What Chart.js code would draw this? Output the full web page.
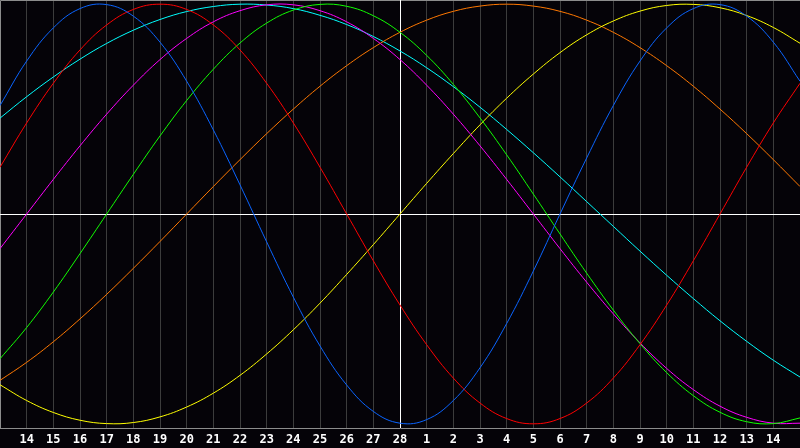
<!DOCTYPE html>
<html>
<head>
<meta charset="utf-8">
<script src="https://cdn.jsdelivr.net/npm/chart.js@4"></script>
<style>
  body { margin: 0; background: #050308; }
  #bio { display: block; background: #050308; }
</style>
</head>
<body>
<canvas id="bio" width="800" height="448"></canvas>
<script>
// days shown on the axis (13 .. 28 of this month, then 1 .. 15 of the next)
const days = ['13','14','15','16','17','18','19','20','21','22','23','24','25','26','27','28',
              '1','2','3','4','5','6','7','8','9','10','11','12','13','14','15'];
const todayIndex = 15;

// cycle values, -100 .. 100, one per day
const physical = [51.7, 72.9, 88.7, 97.9, 99.8, 94.3, 81.9, 63.3, 40.1, 13.9, -13.3, -39.6, -62.9, -81.5, -94.1, -99.7,
                  -98.0, -88.9, -73.3, -52.2, -27.2, 0, 26.7, 51.7, 72.9, 88.7, 97.9, 99.8, 94.3, 81.9, 63.3];
const emotional = [22.3, 43.4, 62.3, 78.2, 90.1, 97.5, 100, 97.5, 90.1, 78.2, 62.3, 43.4, 22.3, 0, -22.3, -43.4,
                   -62.3, -78.2, -90.1, -97.5, -100, -97.5, -90.1, -78.2, -62.3, -43.4, -22.3, 0, 22.3, 43.4, 62.3];
const intellectual = [-69.0, -54.1, -37.2, -18.9, 0, 18.9, 37.2, 54.1, 69.0, 81.5, 91.0, 97.2, 99.9, 99.0, 94.5, 86.6,
                      75.6, 61.8, 45.8, 28.2, 9.5, -9.5, -28.2, -45.8, -61.8, -75.6, -86.6, -94.5, -99.0, -99.9, -97.2];
const intuitive = [-16.5, 0, 16.5, 32.5, 47.6, 61.4, 73.6, 83.7, 91.6, 96.9, 99.7, 99.7, 96.9, 91.6, 83.7, 73.6,
                   61.4, 47.6, 32.5, 16.5, 0, -16.5, -32.5, -47.6, -61.4, -73.6, -83.7, -91.6, -96.9, -99.7, -99.7];
const aesthetic = [-81.4, -88.9, -94.6, -98.3, -99.9, -99.4, -96.7, -92.0, -85.4, -76.9, -66.7, -55.2, -42.5, -28.8, -14.6, 0,
                   14.6, 28.8, 42.5, 55.2, 66.7, 76.9, 85.4, 92.0, 96.7, 99.4, 99.9, 98.3, 94.6, 88.9, 81.4];
const awareness = [-79.3, -70.7, -60.9, -50.0, -38.3, -25.9, -13.1, 0, 13.1, 25.9, 38.3, 50.0, 60.9, 70.7, 79.3, 86.6,
                   92.4, 96.6, 99.1, 100, 99.1, 96.6, 92.4, 86.6, 79.3, 70.7, 60.9, 50.0, 38.3, 25.9, 13.1];
const spiritual = [45.7, 55.9, 65.3, 73.8, 81.3, 87.6, 92.7, 96.5, 98.9, 100, 99.6, 97.9, 94.7, 90.3, 84.6, 77.7,
                   69.7, 60.7, 50.9, 40.3, 29.2, 17.7, 5.9, -5.9, -17.7, -29.2, -40.3, -50.9, -60.7, -69.7, -77.7];

// frame + zero line + today line
const frame = {
    id: 'frame',
    beforeDatasetsDraw(chart) {
        const c = chart.ctx, a = chart.chartArea;
        const y0 = chart.scales.y.getPixelForValue(0);
        const xt = chart.scales.x.getPixelForValue(todayIndex);
        c.save();
        c.lineWidth = 1;
        c.strokeStyle = '#8c8c8c';
        c.beginPath();
        c.moveTo(a.left + 0.5, a.bottom);
        c.lineTo(a.left + 0.5, a.top + 0.5);
        c.lineTo(a.right, a.top + 0.5);
        c.stroke();
        c.strokeStyle = '#ffffff';
        c.beginPath();
        c.moveTo(a.left, Math.round(y0) + 0.5);
        c.lineTo(a.right, Math.round(y0) + 0.5);
        c.moveTo(Math.round(xt) + 0.5, a.top);
        c.lineTo(Math.round(xt) + 0.5, a.bottom);
        c.stroke();
        c.restore();
    }
};

function line(data, color) {
    return { data: data, borderColor: color, borderWidth: 1, pointRadius: 0, pointHoverRadius: 0, tension: 0.4, fill: false };
}

new Chart(document.getElementById('bio'), {
    type: 'line',
    data: {
        labels: days,
        datasets: [
            line(physical, '#0a64ff'),
            line(emotional, '#ff0000'),
            line(intellectual, '#10ff00'),
            line(intuitive, '#ff00ff'),
            line(aesthetic, '#ffff00'),
            line(awareness, '#ff7800'),
            line(spiritual, '#00ffff')
        ]
    },
    options: {
        responsive: false,
        animation: false,
        devicePixelRatio: 1,
        layout: { padding: 0, autoPadding: false },
        scales: {
            x: {
                offset: false,
                grid: {
                    color: (ctx) => ctx.index === 0 ? 'rgba(0,0,0,0)' : '#3c3c3c',
                    drawTicks: true,
                    tickLength: 5,
                    tickColor: 'rgba(0,0,0,0)'
                },
                border: { color: '#8c8c8c' },
                ticks: {
                    autoSkip: false,
                    maxRotation: 0,
                    padding: 0,
                    color: '#ffffff',
                    font: { family: 'DejaVu Sans Mono', weight: 'bold', size: 12 },
                    callback: function(v, i) {
                        return (i === 0 || i === days.length - 1) ? '' : days[i];
                    }
                },
                afterFit: (s) => { s.height = 20; }
            },
            y: {
                display: false,
                min: -102,
                max: 102
            }
        },
        plugins: {
            legend: { display: false },
            tooltip: { enabled: false }
        }
    },
    plugins: [frame]
});
</script>
</body>
</html>
